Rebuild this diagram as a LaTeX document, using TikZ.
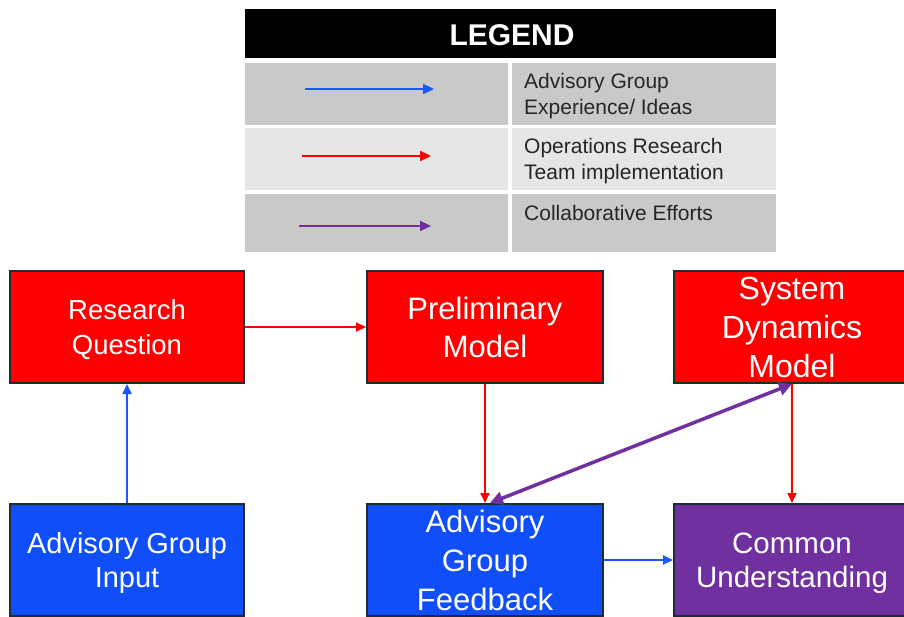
\documentclass[tikz,border=0pt]{standalone}
\usepackage{fontspec}
\setmainfont{Liberation Sans}
\usetikzlibrary{arrows.meta}
\definecolor{boxred}{HTML}{FF0000}
\definecolor{boxblue}{HTML}{0F4EF8}
\definecolor{boxpurple}{HTML}{7030A0}
\definecolor{edgedark}{HTML}{1E2A36}
\definecolor{linkblue}{HTML}{1A56FF}
\definecolor{linkred}{HTML}{FF0000}
\definecolor{linkpurple}{HTML}{7030A0}
\definecolor{rowdark}{HTML}{C9C9C9}
\definecolor{rowlight}{HTML}{E6E6E6}
\definecolor{legendtext}{HTML}{262626}
\begin{document}
\begin{tikzpicture}[x=1pt,y=-1pt,
  stage/.style={draw=edgedark, line width=2pt, minimum height=112pt,
    text=white, align=center, inner sep=0pt},
  redstage/.style={stage, fill=boxred},
  bluestage/.style={stage, fill=boxblue},
  purplestage/.style={stage, fill=boxpurple},
  link/.style={line width=1.8pt, -{Triangle[length=10pt,width=9pt]}},
  bluelink/.style={link, draw=linkblue, fill=linkblue},
  redlink/.style={link, draw=linkred, fill=linkred},
  purplelink/.style={line width=3.5pt, draw=linkpurple, fill=linkpurple,
    {Triangle[length=13pt,width=13pt]}-{Triangle[length=13pt,width=13pt]}},
  samplelink/.style={line width=2.2pt, -{Triangle[length=11pt,width=10pt]}},
  legendlabel/.style={anchor=west, align=left, inner sep=0pt, text=legendtext,
    font=\fontsize{21}{26}\selectfont},
]
\useasboundingbox (0,0) rectangle (904,616);
\fill[white] (0,0) rectangle (904,616);

% ---- legend ----
\fill[black] (245,9) rectangle (776,58);
\node[text=white, font=\fontsize{30}{34}\selectfont\bfseries] (legendtitle) at (512,35) {LEGEND};
\fill[rowdark]  (245,63)  rectangle (508,125);
\fill[rowdark]  (512,63)  rectangle (776,125);
\fill[rowlight] (245,128) rectangle (508,190);
\fill[rowlight] (512,128) rectangle (776,190);
\fill[rowdark]  (245,194) rectangle (508,252);
\fill[rowdark]  (512,194) rectangle (776,252);

\coordinate (lb1) at (305,89);  \coordinate (lb2) at (434,89);
\coordinate (lr1) at (302,156); \coordinate (lr2) at (431,156);
\coordinate (lp1) at (299,226); \coordinate (lp2) at (431,226);
\draw[samplelink, draw=linkblue, fill=linkblue] (lb1) -- (lb2);
\draw[samplelink, draw=linkred, fill=linkred] (lr1) -- (lr2);
\draw[samplelink, draw=linkpurple, fill=linkpurple] (lp1) -- (lp2);

\node[legendlabel] (labadv) at (524,96) {Advisory Group\\Experience/ Ideas};
\node[legendlabel] (labops) at (524,161) {Operations Research\\Team implementation};
\node[legendlabel] (labcol) at (524,213) {Collaborative Efforts};

% ---- stages ----
\node[redstage, minimum width=234pt, font=\fontsize{27.5}{35}\selectfont] (rq) at (127,327) {\rule{0pt}{26pt}Research\\Question};
\node[redstage, minimum width=236pt, font=\fontsize{31}{38}\selectfont] (pm) at (485,327) {Preliminary\\Model};
\node[redstage, minimum width=236pt, font=\fontsize{32}{39}\selectfont] (sdm) at (792,327) {System\\Dynamics\\Model};
\node[bluestage, minimum width=234pt, font=\fontsize{29}{34}\selectfont] (agi) at (127,560) {\rule{0pt}{27pt}Advisory Group\\Input};
\node[bluestage, minimum width=236pt, font=\fontsize{31}{39}\selectfont] (agf) at (485,560) {Advisory\\Group\\Feedback};
\node[purplestage, minimum width=236pt, font=\fontsize{29.5}{34}\selectfont] (cu) at (792,560) {\rule{0pt}{27pt}Common\\Understanding};

% ---- connectors ----
\draw[bluelink] (agi.north) -- (rq.south);
\draw[redlink] (rq.east) -- (pm.west);
\draw[redlink] (pm.south) -- (agf.north);
\draw[redlink] (sdm.south) -- (cu.north);
\draw[bluelink] (agf.east) -- (cu.west);
\draw[purplelink] ([xshift=5pt]agf.north) -- (sdm.south);
\end{tikzpicture}
\end{document}
